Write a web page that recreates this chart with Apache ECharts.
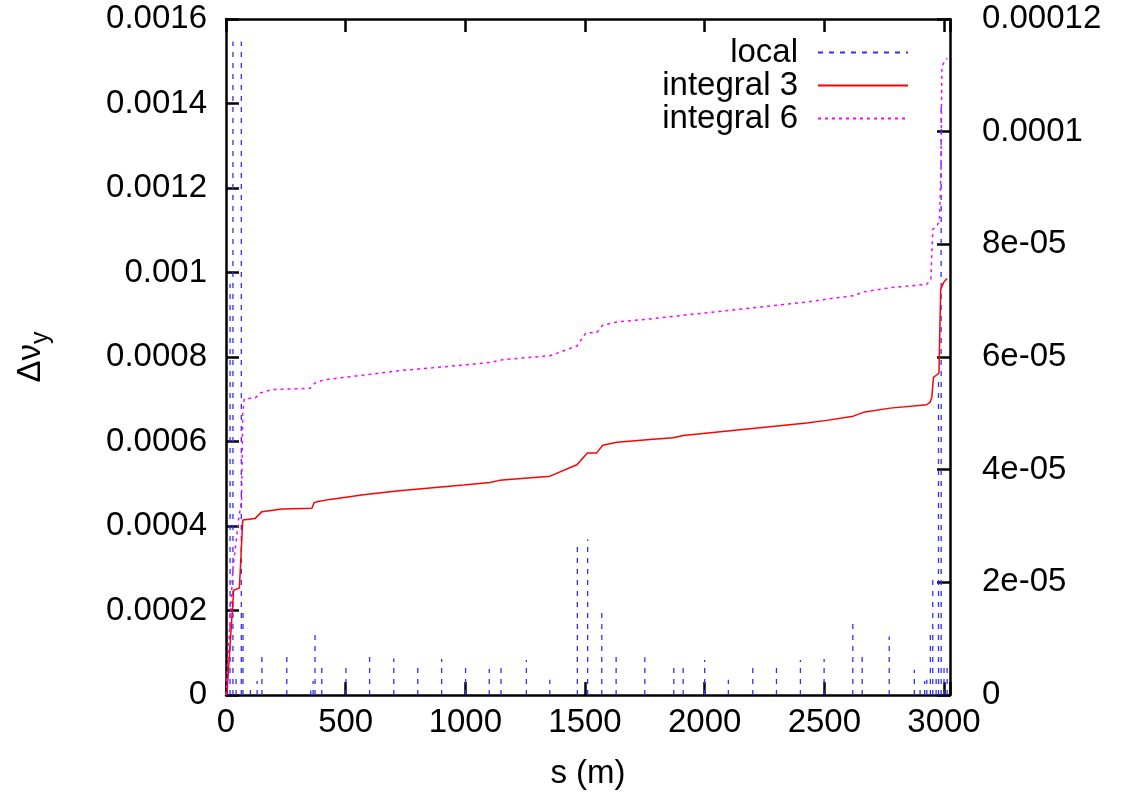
<!DOCTYPE html>
<html><head><meta charset="utf-8">
<script src="https://cdn.jsdelivr.net/npm/echarts/dist/echarts.min.js"></script>
<style>html,body{margin:0;padding:0;background:#fff}#c{width:1124px;height:795px}</style>
</head><body><div id="c"></div>
<script>
const xTickLabels = ['0','500','1000','1500','2000','2500','3000'];
const yLeftTickLabels = ['0','0.0002','0.0004','0.0006','0.0008','0.001','0.0012','0.0014','0.0016'];
const yRightTickLabels = ['0','2e-05','4e-05','6e-05','8e-05','0.0001','0.00012'];

// local (right axis)
const localS = [4,17,29,42,64,71,102,130,150,254,354,364,372,400,501,600,701,801,901,1001,1100,1149,1255,1353,1468,1511,1570,1630,1750,1871,1910,2000,2099,2201,2300,2400,2499,2619,2658,2771,2876,2900,2919,2928,2943,2953,2967,2977,2988,3000,3013];
const localV = [0.27e-5,7.3e-5,11.6e-5,0.3e-5,11.6e-5,1.5e-5,0.1e-5,0.25e-5,0.69e-5,0.69e-5,0.08e-5,0.25e-5,1.08e-5,0.48e-5,0.48e-5,0.69e-5,0.65e-5,0.48e-5,0.64e-5,0.48e-5,0.46e-5,0.48e-5,0.62e-5,0.27e-5,2.73e-5,2.76e-5,1.5e-5,0.69e-5,0.67e-5,0.48e-5,0.48e-5,0.62e-5,0.27e-5,0.48e-5,0.48e-5,0.62e-5,0.64e-5,1.26e-5,0.69e-5,1.04e-5,0.45e-5,0.1e-5,0.25e-5,0.27e-5,1.1e-5,2.07e-5,0.3e-5,5.61e-5,10.5e-5,0.48e-5,0.48e-5];

// integral 3 (left axis)
const int3S = [0,4,32,56,70,122,150,234,359,368,384,435,574,713,852,992,1103,1143,1354,1466,1510,1549,1574,1633,1772,1869,1911,2148,2427,2510,2621,2663,2775,2928,2942,2949,2956,2970,2979,2986,2998,3012];
const int3V = [0,0.05e-4,2.48e-4,2.53e-4,4.14e-4,4.18e-4,4.34e-4,4.40e-4,4.42e-4,4.55e-4,4.58e-4,4.63e-4,4.74e-4,4.83e-4,4.90e-4,4.97e-4,5.03e-4,5.08e-4,5.18e-4,5.45e-4,5.73e-4,5.73e-4,5.91e-4,5.98e-4,6.05e-4,6.09e-4,6.14e-4,6.28e-4,6.44e-4,6.50e-4,6.60e-4,6.69e-4,6.79e-4,6.87e-4,6.93e-4,7.05e-4,7.52e-4,7.58e-4,7.62e-4,9.6e-4,9.76e-4,9.86e-4];

// integral 6 (left axis)
const int6S = [0,29,54,65,70,76,122,143,192,352,371,408,603,713,852,992,1103,1159,1354,1466,1504,1549,1574,1633,1772,1869,1911,2148,2427,2510,2621,2663,2775,2928,2945,2953,2970,2981,2987,2991,3005,3014];
const int6V = [0,3.0e-4,4.2e-4,4.6e-4,6.65e-4,7.01e-4,7.03e-4,7.15e-4,7.23e-4,7.26e-4,7.38e-4,7.46e-4,7.59e-4,7.67e-4,7.74e-4,7.81e-4,7.87e-4,7.94e-4,8.03e-4,8.26e-4,8.57e-4,8.58e-4,8.75e-4,8.83e-4,8.90e-4,8.96e-4,8.99e-4,9.13e-4,9.30e-4,9.37e-4,9.45e-4,9.54e-4,9.64e-4,9.72e-4,9.84e-4,11.02e-4,11.10e-4,11.22e-4,12.36e-4,14.87e-4,15.03e-4,15.07e-4];

const localData = [];
localS.forEach((s, i) => { localData.push([s, 0], [s, localV[i]], [s, '-']); });
const int3Data = int3S.map((s, i) => [s, int3V[i]]);
const int6Data = int6S.map((s, i) => [s, int6V[i]]);

const font = '"Liberation Sans", Arial, Helvetica, sans-serif';
const axisLine = {show: true, onZero: false, lineStyle: {color: '#000', width: 2.5}};
const axisTick = {show: true, inside: true, length: 13, lineStyle: {color: '#000', width: 2.5}};
const lbl = {color: '#000', fontSize: 33, fontFamily: font};

const chart = echarts.init(document.getElementById('c'));
chart.setOption({
  animation: false,
  backgroundColor: '#fff',
  grid: {left: 226, right: 174, top: 19, bottom: 98},
  legend: {
    orient: 'vertical', right: 210, top: 31, align: 'right',
    itemWidth: 90, itemHeight: 14, itemGap: 0,
    itemStyle: {opacity: 0},
    textStyle: {color: '#000', fontSize: 33, lineHeight: 31, fontFamily: font, padding: [0, 15, 0, 0]},
    data: [{name: 'local'}, {name: 'integral 3'}, {name: 'integral 6'}]
  },
  xAxis: [
    {type: 'value', min: 0, max: 3025, interval: 500, position: 'bottom',
     axisLine, axisTick, splitLine: {show: false},
     axisLabel: Object.assign({margin: 11, formatter: v => (v % 500 === 0 ? xTickLabels[v / 500] : '')}, lbl),
     name: 's (m)', nameLocation: 'middle', nameGap: 62, nameTextStyle: lbl},
    {type: 'value', min: 0, max: 3025, interval: 500, position: 'top',
     axisLine, axisTick, splitLine: {show: false}, axisLabel: {show: false}}
  ],
  yAxis: [
    {type: 'value', min: 0, max: 0.0016, interval: 0.0002, position: 'left',
     axisLine, axisTick, splitLine: {show: false},
     axisLabel: Object.assign({margin: 19, formatter: v => yLeftTickLabels[Math.round(v / 0.0002)]}, lbl),
     name: '{a|Δν}{b|y}', nameLocation: 'middle', nameRotate: 90, nameGap: 172,
     nameTextStyle: {rich: {
       a: {fontSize: 33, fontFamily: font, color: '#000', lineHeight: 46, verticalAlign: 'middle'},
       b: {fontSize: 25, fontFamily: font, color: '#000', lineHeight: 46, verticalAlign: 'bottom'}
     }}},
    {type: 'value', min: 0, max: 0.00012, interval: 0.00002, position: 'right',
     axisLine, axisTick, splitLine: {show: false},
     axisLabel: Object.assign({margin: 32, formatter: v => yRightTickLabels[Math.round(v / 0.00002)]}, lbl)}
  ],
  series: [
    {name: 'local', type: 'line', xAxisIndex: 0, yAxisIndex: 1, data: localData,
     symbol: 'none', connectNulls: false,
     lineStyle: {color: '#2f2fff', width: 1.3, type: [5, 6]}, itemStyle: {color: '#2f2fff'}, z: 2},
    {name: 'integral 3', type: 'line', xAxisIndex: 0, yAxisIndex: 0, data: int3Data,
     symbol: 'none', lineStyle: {color: '#ff0000', width: 1.5}, itemStyle: {color: '#ff0000'}, z: 3},
    {name: 'integral 6', type: 'line', xAxisIndex: 0, yAxisIndex: 0, data: int6Data,
     symbol: 'none', lineStyle: {color: '#ff00ff', width: 1.5, type: [3, 4]}, itemStyle: {color: '#ff00ff'}, z: 4}
  ]
});
</script>
</body></html>
